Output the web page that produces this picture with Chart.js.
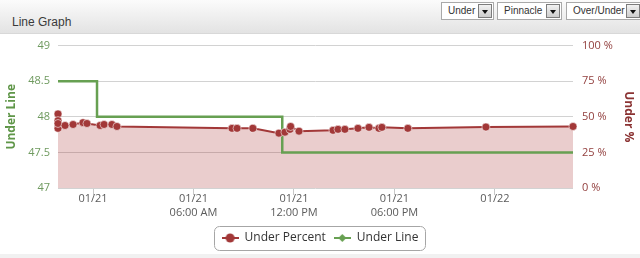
<!DOCTYPE html>
<html>
<head>
<meta charset="utf-8">
<script src="https://cdn.jsdelivr.net/npm/chart.js@4.4.1/dist/chart.umd.min.js"></script>
<style>
html, body { margin:0; padding:0; width:640px; height:258px; overflow:hidden; background:#fff; font-family:"Liberation Sans", Arial, sans-serif; }
#head { position:absolute; left:0; top:0; width:640px; height:33px; background:linear-gradient(#fbfbfb, #e3e3e3); border-bottom:1px solid #d8d8d8; }
#head .title { position:absolute; left:12px; top:15px; font-size:12px; color:#3a3a3a; }
.sel { position:absolute; top:2px; height:18px; box-sizing:border-box; background:#fff; border:1px solid #a9a9a9; font-size:10px; line-height:16px; color:#333; padding-left:6px; }
.sel .btn { position:absolute; right:1px; top:1px; width:14px; height:14px; box-sizing:border-box; border:1px solid #7c7c7c; background:linear-gradient(#f2f2f2, #cdcdcd); }
.sel .btn:after { content:""; position:absolute; left:3px; top:5px; border-left:3px solid transparent; border-right:3px solid transparent; border-top:4px solid #111; }
#wrap { position:absolute; left:0; top:30px; width:640px; height:224px; }
#foot { position:absolute; left:0; top:254px; width:640px; height:4px; background:#f1f1f1; }
</style>
</head>
<body>
<div id="head">
  <div class="title">Line Graph</div>
  <div class="sel" style="left:441px;width:53px">Under<span class="btn"></span></div>
  <div class="sel" style="left:497px;width:65px">Pinnacle<span class="btn"></span></div>
  <div class="sel" style="left:566px;width:76px">Over/Under<span class="btn"></span></div>
</div>
<div id="wrap"><canvas id="chart" width="640" height="224"></canvas></div>
<div id="foot"></div>
<script>
// hours counted from 01/21 00:00
const underTimes = [-2.09, -2.09, -2.09, -2.09, -1.67, -1.19, -0.60, -0.36, 0.42, 0.66, 1.13, 1.43,
    8.30, 8.60, 9.55, 11.10, 11.46, 11.76, 11.80, 12.30, 14.33, 14.63, 15.04, 15.82, 16.48, 17.07,
    17.25, 18.80, 23.46, 28.66]
const underPercent = [52, 47.3, 41.9, 45.3, 43.9, 44.6, 45.9, 45.3, 43.9, 44.6, 44.6, 43.2,
    41.9, 41.9, 41.9, 38.5, 39.2, 41.2, 43.2, 39.9, 40.5, 41.2, 41.2, 41.9, 42.6, 41.9,
    42.6, 41.9, 42.8, 43.2]
const lineTimes = [-2.09, 0.24, 11.3, 28.66]
const lineValues = [48.5, 48.0, 47.5, 47.5]

const tickHours = [0, 6, 12, 18, 24]
const tickLabels = [['01/21'], ['01/21', '06:00 AM'], ['01/21', '12:00 PM'], ['01/21', '06:00 PM'], ['01/22']]

const RED = '#a23838'
const GREEN = '#67a052'
const plotBottom = 158 // canvas y of the bottom of the plot

function legendMark(color, shape){
    const c = document.createElement('canvas')
    c.width = 17; c.height = 10
    const g = c.getContext('2d')
    g.strokeStyle = color; g.lineWidth = 2
    g.beginPath(); g.moveTo(0, 5); g.lineTo(17, 5); g.stroke()
    g.fillStyle = color
    g.beginPath()
    if (shape === 'circle') {
        g.arc(8.5, 5, 4.5, 0, Math.PI * 2)
    } else {
        g.moveTo(8.5, 1); g.lineTo(12.5, 5); g.lineTo(8.5, 9); g.lineTo(4.5, 5); g.closePath()
    }
    g.fill()
    return c
}
const marks = [legendMark(RED, 'circle'), legendMark(GREEN, 'diamond')]

// rounded frame around the legend items
const legendFrame = {
    id: 'legendFrame',
    afterDraw(chart){
        const boxes = chart.legend.legendHitBoxes
        if (!boxes || !boxes.length) return
        const left = Math.min(...boxes.map(b => b.left)) - 8
        const right = Math.max(...boxes.map(b => b.left + b.width)) + 6
        const cy = boxes[0].top + boxes[0].height / 2
        const ctx = chart.ctx
        ctx.save()
        ctx.strokeStyle = '#a6a6a6'
        ctx.lineWidth = 1
        ctx.beginPath()
        ctx.roundRect(Math.round(left) + 0.5, Math.round(cy - 12) + 0.5, Math.round(right - left), 24, 5)
        ctx.stroke()
        ctx.restore()
    }
}

new Chart(document.getElementById('chart'), {
    type: 'line',
    data: {
        datasets: [
            {
                label: 'Under Percent',
                data: underTimes.map((t, i) => ({x: t, y: underPercent[i]})),
                yAxisID: 'yPct',
                borderColor: RED,
                borderWidth: 2,
                backgroundColor: 'rgba(168, 45, 45, 0.24)',
                fill: 'start',
                pointRadius: 4,
                pointBackgroundColor: RED,
                pointBorderColor: 'rgba(255,255,255,0.55)',
                pointBorderWidth: 1,
                tension: 0,
                clip: false
            },
            {
                label: 'Under Line',
                data: lineTimes.map((t, i) => ({x: t, y: lineValues[i]})),
                yAxisID: 'yLine',
                borderColor: GREEN,
                backgroundColor: GREEN,
                borderWidth: 2.5,
                stepped: 'before',
                pointRadius: 0,
                fill: false
            }
        ]
    },
    options: {
        responsive: false,
        animation: false,
        layout: { padding: { top: 10, left: 0, right: 0, bottom: 0 } },
        scales: {
            x: {
                type: 'linear',
                min: lineTimes[0],
                max: lineTimes[lineTimes.length - 1],
                afterBuildTicks: (scale) => { scale.ticks = tickHours.map(v => ({value: v})) },
                afterFit: (scale) => {
                    const lg = scale.chart.legend
                    scale.height = scale.chart.height - plotBottom - (lg ? lg.height : 0)
                },
                grid: { drawOnChartArea: false, drawTicks: true, tickLength: 7, color: '#c8c8c8' },
                border: { display: false },
                ticks: {
                    autoSkip: false,
                    maxRotation: 0,
                    padding: -3,
                    color: '#5a5a5a',
                    font: { family: 'Open Sans', size: 11, lineHeight: 1.25 },
                    callback: (v) => { const i = tickHours.indexOf(v); return i < 0 ? '' : tickLabels[i] }
                }
            },
            yLine: {
                position: 'left',
                min: 47,
                max: 49,
                afterFit: (scale) => { scale.width = 58 },
                ticks: { stepSize: 0.5, padding: 8, color: '#6f9a5f', font: { family: 'Open Sans', size: 11 },
                    callback: (v) => String(v) },
                grid: { color: '#d2d2d2', drawTicks: false },
                border: { display: false },
                title: { display: true, text: 'Under Line', color: '#5f9648', font: { family: 'Open Sans', size: 12, weight: 'bold' } }
            },
            yPct: {
                position: 'right',
                min: 0,
                max: 100,
                afterFit: (scale) => { scale.width = 67 },
                ticks: { stepSize: 25, padding: 9, color: '#93403f', font: { family: 'Open Sans', size: 11 },
                    callback: (v) => v + ' %' },
                grid: { drawOnChartArea: false, drawTicks: false },
                border: { display: false },
                title: { display: true, text: 'Under %', color: '#8b3333', font: { family: 'Open Sans', size: 12, weight: 'bold' } }
            }
        },
        plugins: {
            filler: { drawTime: 'beforeDatasetsDraw' },
            tooltip: { enabled: false },
            legend: {
                position: 'bottom',
                labels: {
                    usePointStyle: true,
                    pointStyleWidth: 17,
                    boxHeight: 10,
                    padding: 8,
                    color: '#333',
                    font: { family: 'Open Sans', size: 12 },
                    generateLabels(chart){
                        const items = Chart.defaults.plugins.legend.labels.generateLabels(chart)
                        items.forEach((it, i) => { it.pointStyle = marks[i] })
                        return items
                    }
                }
            }
        }
    },
    plugins: [legendFrame]
})
</script>
</body>
</html>
